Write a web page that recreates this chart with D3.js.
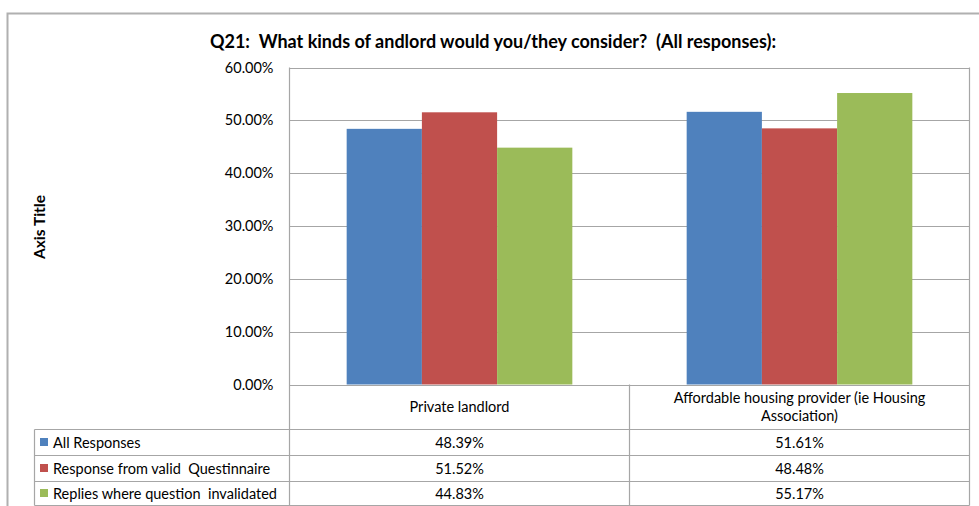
<!DOCTYPE html>
<html>
<head>
<meta charset="utf-8">
<script src="https://cdn.jsdelivr.net/npm/d3@7"></script>
<style>
  html, body { margin: 0; padding: 0; background: #fff; }
  svg { display: block; font-family: Lato, "Open Sans", sans-serif; }
</style>
</head>
<body>
<svg id="chart" width="979" height="506"></svg>
<script>
// Chart data
const categories = ["Private landlord", "Affordable housing provider (ie Housing Association)"];
const categoryLines = [["Private landlord"], ["Affordable housing provider (ie Housing", "Association)"]];
const seriesNames = ["All Responses", "Response from valid  Questinnaire", "Replies where question  invalidated"];
const seriesColors = ["#4f81bd", "#c0504d", "#9bbb59"];
const allResponses = [48.39, 51.61];
const validQuestionnaire = [51.52, 48.48];
const questionInvalidated = [44.83, 55.17];
const yTicks = [0, 10, 20, 30, 40, 50, 60];
const titleText = "Q21:  What kinds of andlord would you/they consider?  (All responses):";
const axisTitle = "Axis Title";

const series = [allResponses, validQuestionnaire, questionInvalidated];

const svg = d3.select("#chart");
const gridColor = "#a6a6a6";
const bodySize = 14.5;

// Outer chart frame
svg.append("path")
  .attr("d", "M7.5,506 L7.5,13.5 L979,13.5")
  .attr("fill", "none")
  .attr("stroke", "#b0b0b0")
  .attr("stroke-width", 2);

// Plot area geometry
const plot = { left: 289.5, right: 969.5, top: 67.5, bottom: 384.5 };
const tableLeft = 34.5;
const rowEdges = [384.5, 429.5, 455.5, 481.5, 505.5];

const x = d3.scaleBand().domain(categories).range([plot.left, plot.right]).paddingInner(0).paddingOuter(0);
const y = d3.scaleLinear().domain([0, 60]).range([plot.bottom, plot.top]);
const xs = d3.scaleBand().domain(d3.range(seriesNames.length))
  .range([0, x.bandwidth()]).paddingInner(0).paddingOuter(0.76);

// Horizontal gridlines
svg.append("g").selectAll("line").data(yTicks).join("line")
  .attr("x1", plot.left).attr("x2", plot.right)
  .attr("y1", d => Math.round(y(d)) + 0.5).attr("y2", d => Math.round(y(d)) + 0.5)
  .attr("stroke", gridColor).attr("stroke-width", 1.2);

// Y axis with percent labels
const yAxis = d3.axisLeft(y).tickValues(yTicks).tickSize(0).tickPadding(16)
  .tickFormat(d => d.toFixed(2) + "%");
const yg = svg.append("g").attr("transform", `translate(${plot.left},0)`).call(yAxis);
yg.select(".domain").remove();
yg.selectAll("text").attr("font-size", bodySize).attr("fill", "#000")
  .attr("font-family", "Lato, sans-serif");

// Bars
const groups = svg.append("g").selectAll("g").data(categories).join("g")
  .attr("transform", d => `translate(${x(d)},0)`);
groups.selectAll("rect")
  .data((c, ci) => series.map((s, si) => ({ si, v: s[ci] })))
  .join("rect")
  .attr("x", d => xs(d.si))
  .attr("width", xs.bandwidth())
  .attr("y", d => y(d.v))
  .attr("height", d => y(0) - y(d.v))
  .attr("fill", d => seriesColors[d.si]);

// Data table lines
const tg = svg.append("g").attr("stroke", gridColor).attr("stroke-width", 1.2);
tg.append("line").attr("x1", plot.left).attr("x2", plot.left).attr("y1", plot.top).attr("y2", rowEdges[4]);
tg.append("line").attr("x1", plot.right).attr("x2", plot.right).attr("y1", plot.top).attr("y2", rowEdges[4]);
tg.append("line").attr("x1", x(categories[1])).attr("x2", x(categories[1])).attr("y1", rowEdges[0]).attr("y2", rowEdges[4]);
tg.append("line").attr("x1", tableLeft).attr("x2", tableLeft).attr("y1", rowEdges[1]).attr("y2", rowEdges[4]);
rowEdges.slice(1).forEach(r => {
  tg.append("line").attr("x1", tableLeft).attr("x2", plot.right).attr("y1", r).attr("y2", r);
});

// Category header cells
categories.forEach((c, ci) => {
  const lines = categoryLines[ci];
  const cx = x(c) + x.bandwidth() / 2;
  const mid = (rowEdges[0] + rowEdges[1]) / 2;
  const lh = 18;
  lines.forEach((ln, li) => {
    svg.append("text")
      .attr("x", cx)
      .attr("y", mid + (li - (lines.length - 1) / 2) * lh)
      .attr("dy", "0.35em")
      .attr("text-anchor", "middle")
      .attr("font-size", bodySize)
      .text(ln);
  });
});

// Series rows: legend key, name, values
seriesNames.forEach((name, si) => {
  const mid = (rowEdges[si + 1] + rowEdges[si + 2]) / 2;
  svg.append("rect")
    .attr("x", 40).attr("y", mid - 4.5).attr("width", 8).attr("height", 8)
    .attr("fill", seriesColors[si]);
  svg.append("text")
    .attr("x", 53).attr("y", mid).attr("dy", "0.35em")
    .attr("font-size", bodySize).attr("xml:space", "preserve")
    .text(name);
  categories.forEach((c, ci) => {
    svg.append("text")
      .attr("x", x(c) + x.bandwidth() / 2).attr("y", mid).attr("dy", "0.35em")
      .attr("text-anchor", "middle").attr("font-size", bodySize)
      .text(series[si][ci].toFixed(2) + "%");
  });
});

// Chart title
svg.append("text")
  .attr("x", 493).attr("y", 42).attr("dy", "0.35em")
  .attr("text-anchor", "middle")
  .attr("font-size", 18).attr("font-weight", "bold")
  .attr("xml:space", "preserve")
  .text(titleText);

// Vertical axis title
svg.append("text")
  .attr("transform", "translate(40,227) rotate(-90)")
  .attr("dy", "0.35em")
  .attr("text-anchor", "middle")
  .attr("font-size", 15.5).attr("font-weight", "bold")
  .text(axisTitle);
</script>
</body>
</html>
